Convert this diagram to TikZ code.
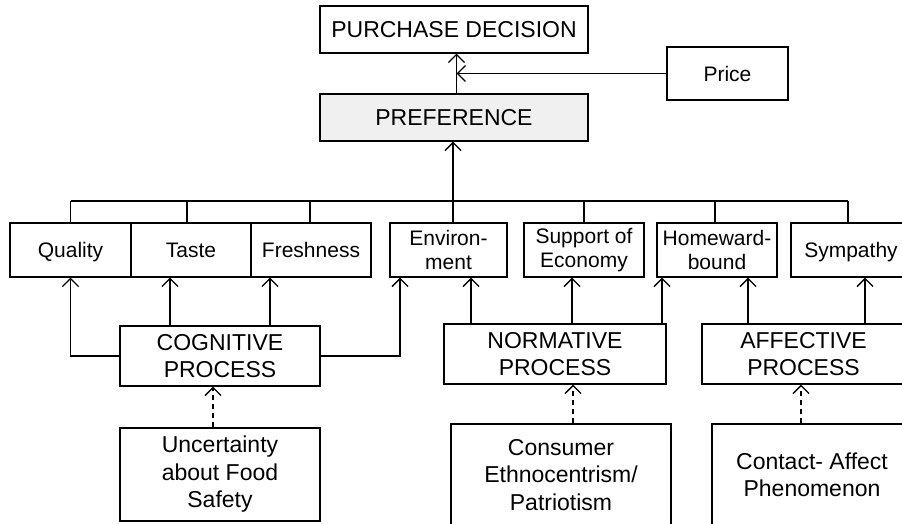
\documentclass[tikz,border=0pt]{standalone}
\usepackage{fontspec}
\setmainfont{Liberation Sans}
\usetikzlibrary{arrows.meta}
\definecolor{prefgray}{RGB}{240,240,240}
\begin{document}
\begin{tikzpicture}[x=1pt,y=-1pt,line width=1.3pt,
  box/.style={draw,rectangle,inner sep=0pt,align=center},
  big/.style={box,font=\fontsize{23}{27.5}\selectfont},
  small/.style={box,font=\fontsize{21}{23.5}\selectfont,minimum height=54pt},
  oneline/.style={text height=15pt,text depth=0pt},
  arr/.style={-{Straight Barb[length=8pt,width=16pt]}},
  darr/.style={arr,dash pattern=on 5pt off 4pt}]
\useasboundingbox (0,0) rectangle (902,523);
\clip (0,0) rectangle (902,523);

% top of the hierarchy
\node[big,minimum width=268pt,minimum height=47pt] (pd) at (454,29.5) {PURCHASE DECISION};
\node[big,minimum width=268pt,minimum height=47pt,fill=prefgray] (pref) at (454,117.5) {PREFERENCE};
\node[box,oneline,font=\fontsize{21}{23.5}\selectfont,minimum width=121pt,minimum height=53pt] (price) at (727.5,73.5) {Price};

% attribute row
\node[small,oneline,minimum width=121pt] (quality) at (70.5,250) {Quality};
\node[small,oneline,minimum width=120pt] (taste) at (191,250) {Taste};
\node[small,oneline,minimum width=120pt] (fresh) at (311,250) {Freshness};
\node[small,minimum width=117pt] (env) at (448.5,250) {Environ-\\ment};
\node[small,minimum width=120pt] (support) at (584,250) {Support of\\Economy};
\node[small,minimum width=120pt] (home) at (717,250) {Homeward-\\bound};
\node[small,oneline,minimum width=120pt] (symp) at (851,250) {Sympathy};

% processes
\node[big,minimum width=200pt,minimum height=60pt] (cog) at (220,356) {COGNITIVE\\PROCESS};
\node[big,minimum width=222pt,minimum height=60pt] (norm) at (555,354) {NORMATIVE\\PROCESS};
\node[big,minimum width=203pt,minimum height=60pt] (aff) at (803.5,354) {AFFECTIVE\\PROCESS};

% antecedents
\node[big,minimum width=200pt,minimum height=93pt] (unc) at (220,474.5) {Uncertainty\\about Food\\Safety};
\node[big,minimum width=220pt,minimum height=102pt] (cons) at (561,475) {Consumer\\Ethnocentrism/\\Patriotism};
\node[big,minimum width=200pt,minimum height=102pt] (cont) at (812,475) {Contact- Affect\\Phenomenon};

% preference -> decision, price -> decision
\draw[arr] ([xshift=2.5]pref.north) -- ([xshift=2.5]pd.south);
\coordinate (pj) at ([xshift=2.5]pd.south |- price.west);
\draw[arr] (price.west) -- (pj);

% bus collecting the attributes
\coordinate (bus) at (453,201);
\draw[arr] (bus) -- (bus |- pref.south);
\draw (quality.north |- bus) -- ([xshift=-3]symp.north |- bus);
\foreach \n/\s in {quality/0,taste/-4,fresh/-1,env/4.5,support/0,home/-2,symp/-3}
  \draw ([xshift=\s]\n.north) -- ([xshift=\s]\n.north |- bus);

% cognitive process
\draw[arr] (cog.west) -| (quality.south);
\draw[arr] ([xshift=-50]cog.north) -- ([xshift=-50]cog.north |- taste.south);
\draw[arr] ([xshift=50]cog.north) -- ([xshift=50]cog.north |- fresh.south);
\draw[arr] (cog.east) -| ([xshift=-48.5]env.south);

% normative process
\draw[arr] ([xshift=-84]norm.north) -- ([xshift=-84]norm.north |- env.south);
\draw[arr] ([xshift=17]norm.north) -- ([xshift=17]norm.north |- support.south);
\draw[arr] ([xshift=107]norm.north) -- ([xshift=107]norm.north |- home.south);

% affective process
\draw[arr] ([xshift=-55.5]aff.north) -- ([xshift=-55.5]aff.north |- home.south);
\draw[arr] ([xshift=61.5]aff.north) -- ([xshift=61.5]aff.north |- symp.south);

% antecedents -> processes
\draw[darr] ([xshift=-7]unc.north) -- ([xshift=-7]cog.south);
\draw[darr] ([xshift=12]cons.north) -- ([xshift=12]cons.north |- norm.south);
\draw[darr] ([xshift=-11]cont.north) -- ([xshift=-11]cont.north |- aff.south);
\end{tikzpicture}
\end{document}
